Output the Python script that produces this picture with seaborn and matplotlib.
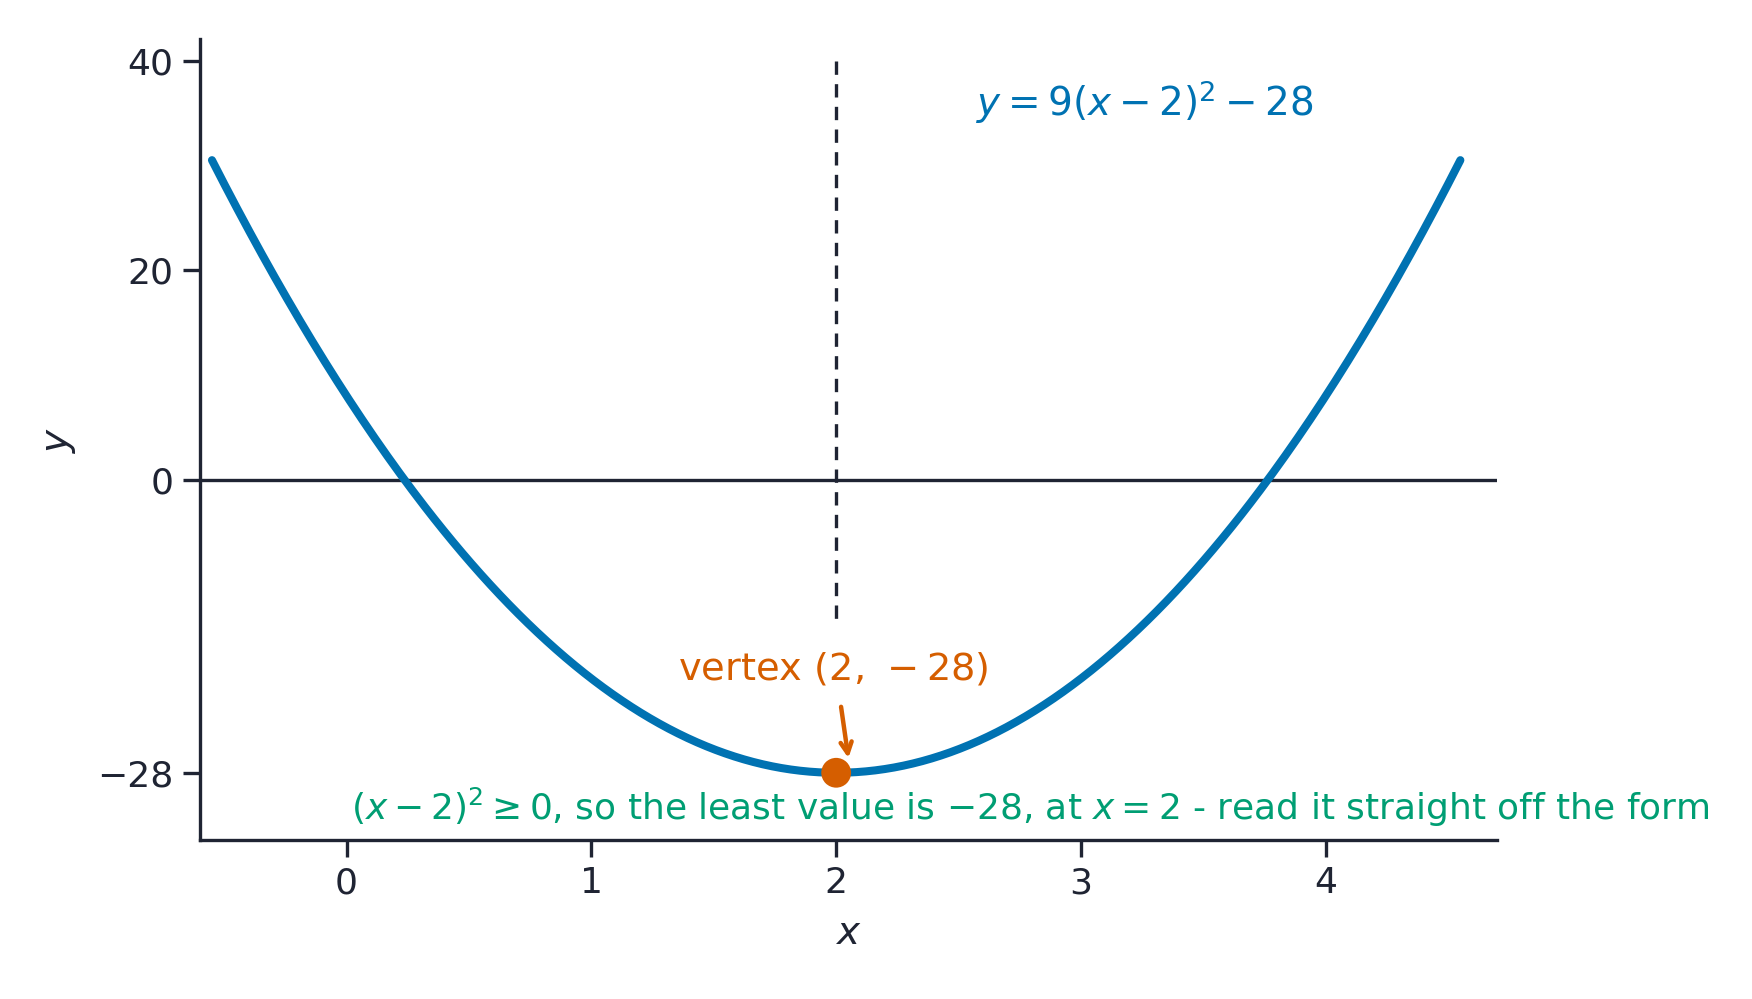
import numpy as np
import pandas as pd
import matplotlib
matplotlib.use("Agg")
import matplotlib.pyplot as plt
import seaborn as sns

# Data
a_coef = 9
h_vertex = 2
k_vertex = -28
x_values = np.linspace(-0.55, 4.55, 400)
x_ticks = [0, 1, 2, 3, 4]
y_ticks = [-28, 0, 20, 40]
y_tick_labels = ["\u221228", "0", "20", "40"]

df = pd.DataFrame({"x": x_values, "y": a_coef * (x_values - h_vertex) ** 2 + k_vertex})

sns.set_style("ticks")
plt.rcParams['font.family'] = ['DejaVu Sans']
dark = "#1f2433"
blue = "#0072B2"
orange = "#D55E00"
green = "#009E73"

fig = plt.figure(figsize=(8.76, 4.995), dpi=200)
ax = fig.add_axes([0.114, 0.1594, 0.7405, 0.8016])

sns.lineplot(data=df, x="x", y="y", ax=ax, color=blue, lw=2.9, solid_capstyle="round")
ax.axhline(0, color=dark, lw=1.2, zorder=1)
ax.plot([h_vertex, h_vertex], [40, -14], color=dark, lw=1.2, ls=(0, (4, 2.8)), zorder=1)
ax.scatter([h_vertex], [k_vertex], s=115, color=orange, zorder=5, edgecolor="none")

ax.set_xlim(-0.6, 4.7)
ax.set_ylim(-34.4, 42.1)
ax.set_xticks(x_ticks)
ax.set_yticks(y_ticks)
ax.set_yticklabels(y_tick_labels)
ax.tick_params(colors=dark, labelsize=13, width=1.2, length=6)
for s in ["left", "bottom"]:
    ax.spines[s].set_color(dark)
    ax.spines[s].set_linewidth(1.2)
sns.despine(ax=ax)

ax.set_xlabel("$x$", fontsize=14, color=dark, labelpad=5)
ax.set_ylabel("$y$", fontsize=14, color=dark, labelpad=7)

ax.text(2.57, 36.1, r"$y = 9(x-2)^2 - 28$", color=blue, fontsize=14, ha="left", va="center")
ax.text(1.99, -18.1, r"vertex $(2,\,-28)$", color=orange, fontsize=13.8, ha="center", va="center")
ax.annotate("", xy=(2.05, -26.6), xytext=(2.02, -21.7),
            arrowprops=dict(arrowstyle="->", color=orange, lw=1.6, shrinkA=0, shrinkB=0))
ax.text(0.02, -31.3, r"$(x-2)^2 \geq 0$, so the least value is $-28$, at $x = 2$ - read it straight off the form",
        color=green, fontsize=12.95, ha="left", va="center")

fig.savefig("out.png", dpi=200)
